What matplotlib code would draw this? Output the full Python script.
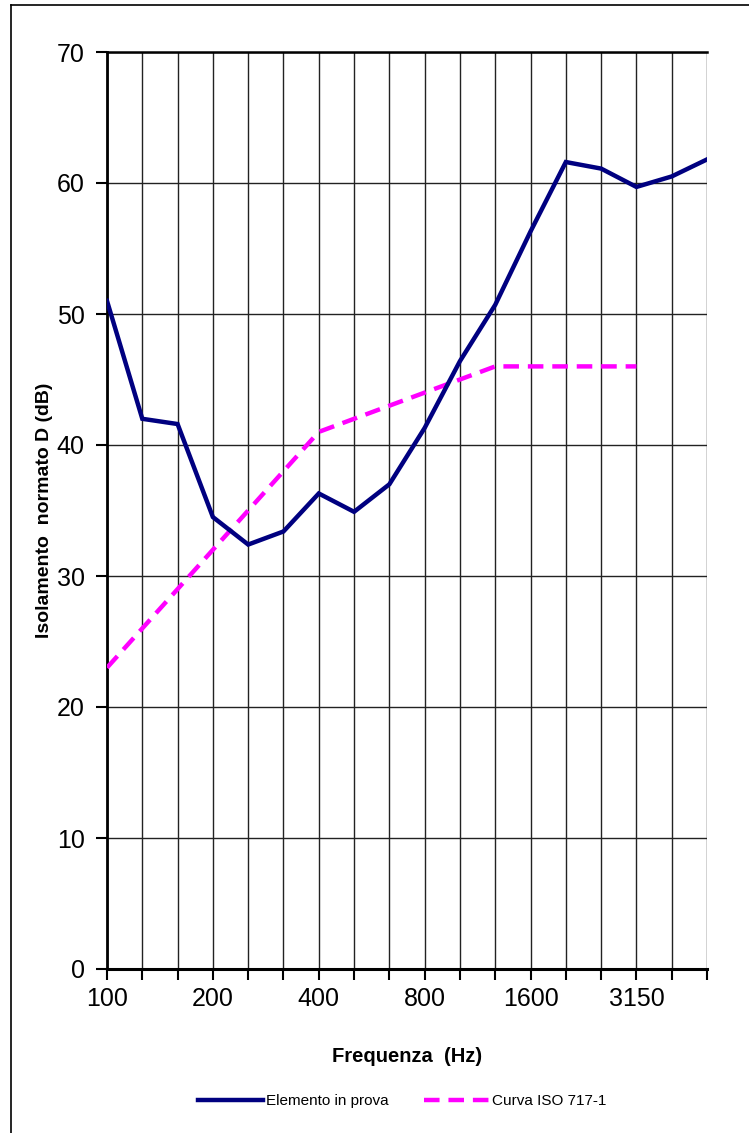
import numpy as np
import matplotlib
matplotlib.use("Agg")
import matplotlib.pyplot as plt

# bande di terzo d'ottava
freq = ["100", "125", "160", "200", "250", "315", "400", "500", "630",
        "800", "1000", "1250", "1600", "2000", "2500", "3150", "4000", "5000"]
elemento = [51.0, 42.0, 41.6, 34.5, 32.4, 33.4, 36.3, 34.9, 37.0,
            41.3, 46.4, 50.7, 56.3, 61.6, 61.1, 59.7, 60.5, 61.8]
iso717 = [23, 26, 29, 32, 35, 38, 41, 42, 43, 44, 45, 46, 46, 46, 46, 46]
tick_labels = ["100", "200", "400", "800", "1600", "3150"]

plt.rcParams['font.family'] = ['Liberation Sans', 'DejaVu Sans']

fig = plt.figure(figsize=(7.49, 11.33), dpi=100)
ax = fig.add_axes([107/749, 1 - 969/1133, 600/749, 917/1133])

x = np.arange(len(freq))
ax.plot(x, elemento, color="#000080", lw=3.2, solid_joinstyle="miter",
        label="Elemento in prova", zorder=4)
ax.plot(x[:len(iso717)], iso717, color="#FF00FF", lw=3.2, ls=(0, (3.5, 2)),
        label="Curva ISO 717-1", zorder=3)

ax.set_xlim(0, len(freq) - 1)
ax.set_ylim(0, 70)
ax.set_yticks(np.arange(0, 71, 10))
ax.set_xticks(x)
ax.set_xticklabels([f if f in tick_labels else "" for f in freq])

ax.grid(True, color="#222222", lw=1.0)
ax.set_axisbelow(True)
ax.tick_params(axis="both", direction="out", length=8, width=1.5,
               labelsize=18, colors="black", pad=5)
ax.tick_params(axis="y", pad=8)

ax.spines["right"].set_visible(False)
ax.spines["left"].set_linewidth(2)
ax.spines["bottom"].set_linewidth(2.2)
ax.spines["top"].set_linewidth(1.8)

ax.set_ylabel("Isolamento  normato D (dB)", fontsize=14, fontweight="bold")
ax.yaxis.set_label_coords(-0.09, 0.5)
ax.set_xlabel("Frequenza  (Hz)", fontsize=14.5, fontweight="bold")
ax.xaxis.set_label_coords(0.5, -0.085)

fig.legend(loc="center", bbox_to_anchor=(402/749, 1 - 1101/1133), ncol=2,
           frameon=False, fontsize=11,
           handlelength=4.25, handletextpad=0.2, columnspacing=2.3)

# cornice (solo lati sinistro e superiore visibili)
fig.add_artist(plt.Line2D([11/749, 11/749], [0, 1 - 5/1133], color="black",
                          lw=1.2, transform=fig.transFigure))
fig.add_artist(plt.Line2D([11/749, 1], [1 - 5/1133, 1 - 5/1133], color="black",
                          lw=1.2, transform=fig.transFigure))

fig.savefig("out.png", dpi=100)
